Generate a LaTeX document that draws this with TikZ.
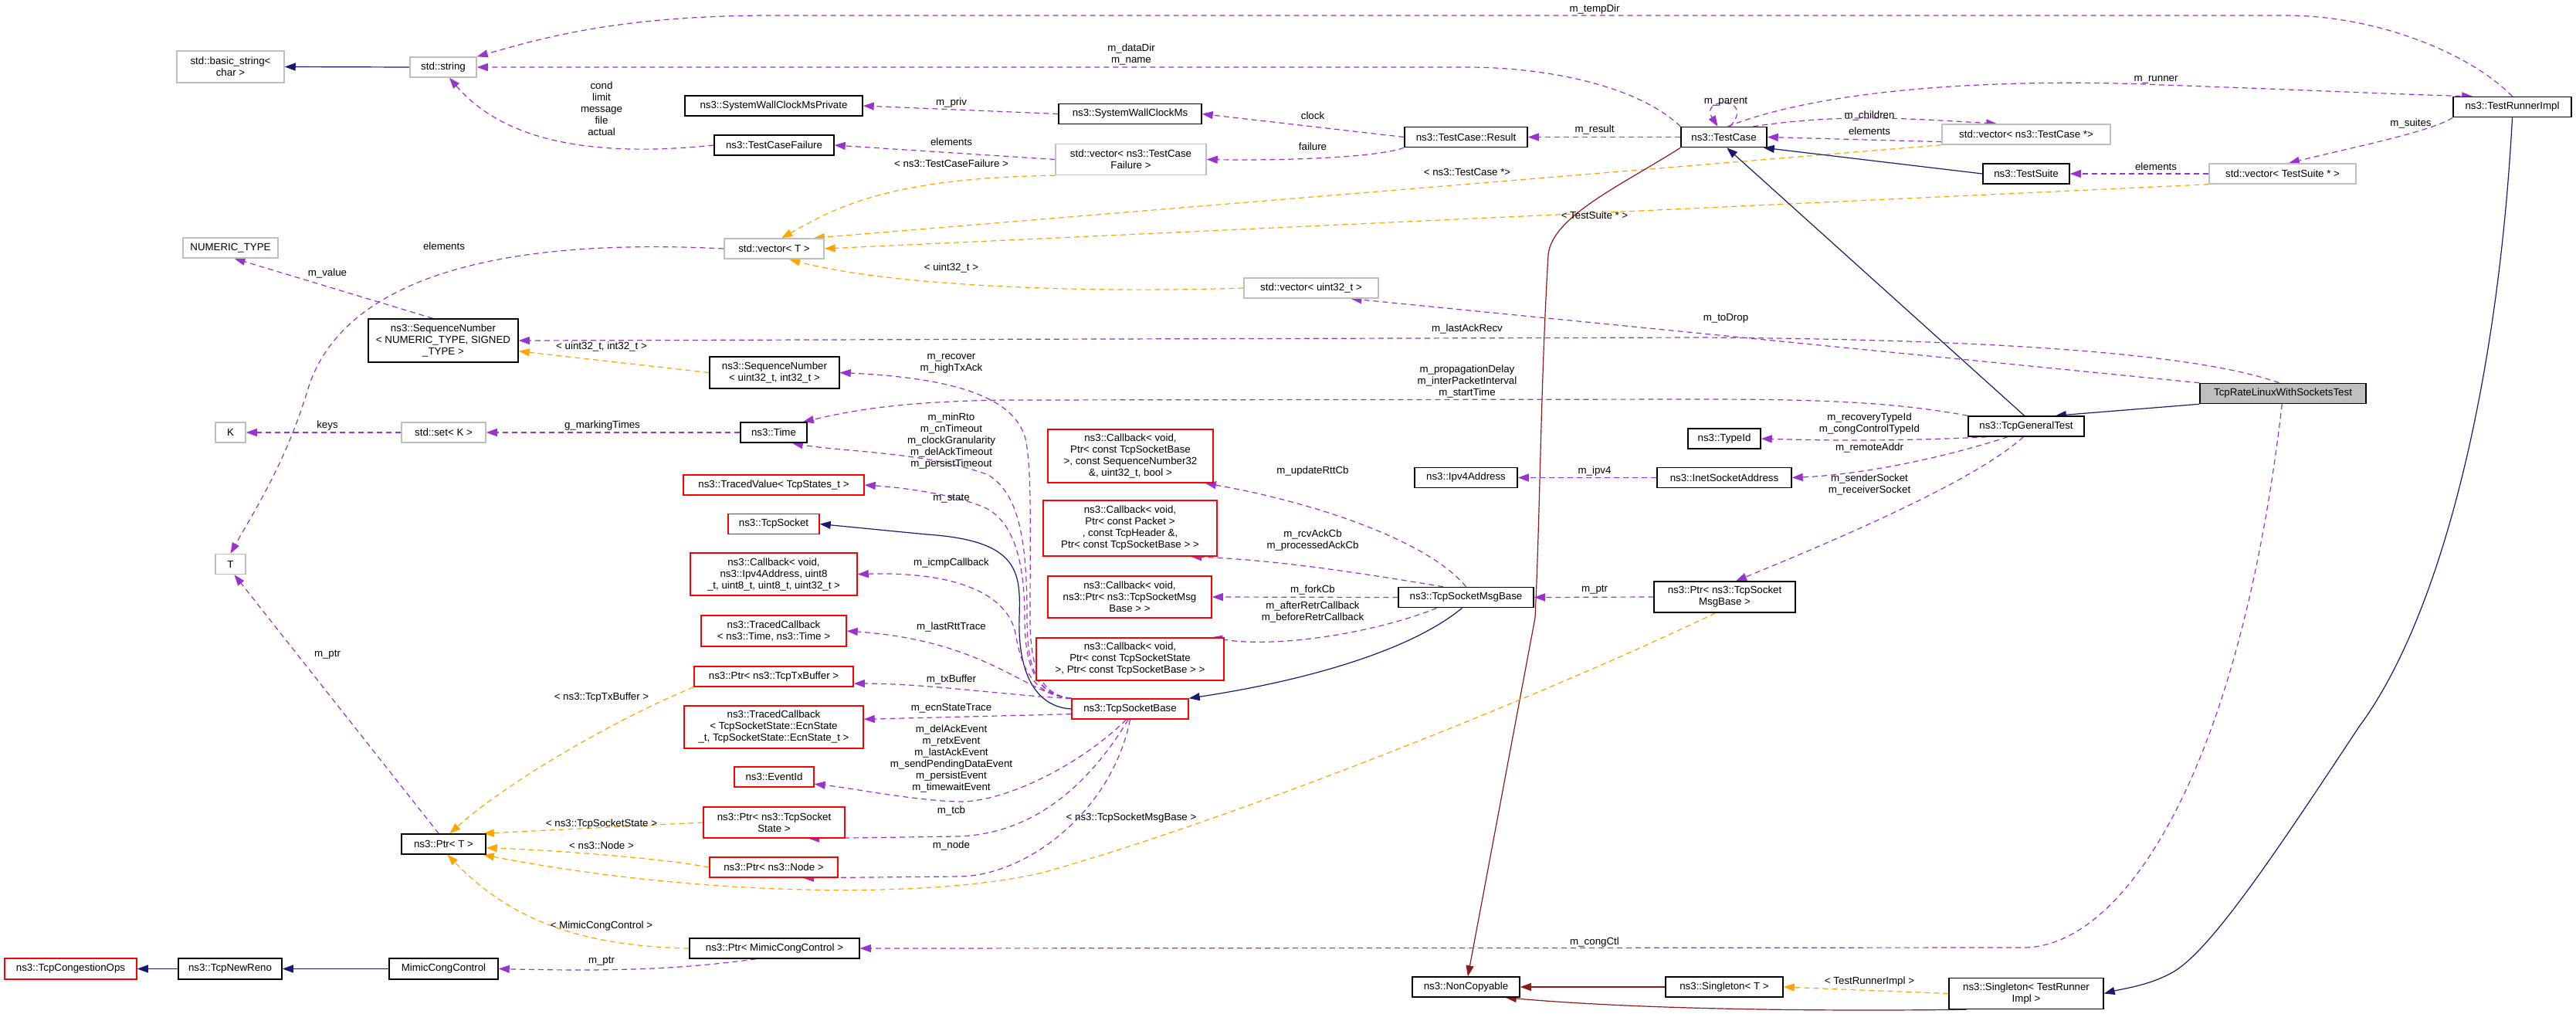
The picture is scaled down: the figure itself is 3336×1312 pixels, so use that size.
\documentclass[tikz,border=0pt]{standalone}
\usepackage{fontspec}
\setmainfont{Liberation Sans}
\usetikzlibrary{arrows.meta}
\definecolor{purp}{HTML}{9A32CD}
\definecolor{orng}{HTML}{FFA500}
\definecolor{mblue}{HTML}{191970}
\definecolor{dred}{HTML}{8B1A1A}
\definecolor{gry}{HTML}{BFBFBF}
\pgfdeclarelayer{bg}
\pgfsetlayers{bg,main}
\tikzset{
  every node/.style={font=\fontsize{13.3}{15}\selectfont},
  bx/.style={draw=black, line width=1.5pt, fill=white, inner sep=1pt, align=center},
  gbx/.style={bx, draw=gry},
  rbx/.style={bx, draw=red},
  lab/.style={inner sep=0pt, align=center},
  tip/.style={-{Triangle[length=14pt,width=10pt]}},
  use/.style={tip, draw=purp, line width=1.2pt, dash pattern=on 7pt off 5pt},
  tmpl/.style={tip, draw=orng, line width=1.2pt, dash pattern=on 7pt off 5pt},
  inh/.style={tip, draw=mblue, line width=1.2pt},
  pinh/.style={tip, draw=dred, line width=1.2pt},
}
\newcommand{\bn}[6][bx]{\node[#1, minimum width=#4pt, minimum height=#5pt] (#2) at #3 {#6};}
\begin{document}
\begin{tikzpicture}[x=1pt,y=-1pt]
\useasboundingbox (0,0) rectangle (3336,1312);
% nodes
\bn[gbx]{basicstr}{(298.5,86.5)}{139}{41}{std::basic\_string<\\ char >}
\bn[gbx]{string}{(574,87)}{86}{26}{std::string}
\bn{syswallpriv}{(1002,137)}{230}{26}{ns3::SystemWallClockMsPrivate}
\bn{tcfailure}{(1002.5,188)}{155}{26}{ns3::TestCaseFailure}
\bn[gbx]{numtype}{(298.5,321)}{123}{26}{NUMERIC\_TYPE}
\bn{seqgen}{(574,441)}{194}{56}{ns3::SequenceNumber\\< NUMERIC\_TYPE, SIGNED\\\_TYPE >}
\bn[gbx]{vectort}{(1002.5,322)}{129}{26}{std::vector< T >}
\bn{sequ}{(1003,482.5)}{168}{41}{ns3::SequenceNumber\\< uint32\_t, int32\_t >}
\bn[gbx]{knode}{(298.5,560)}{39}{26}{K}
\bn[gbx]{setk}{(574.5,560)}{109}{26}{std::set< K >}
\bn{time}{(1002,560)}{86}{26}{ns3::Time}
\bn[rbx]{tracedval}{(1002,628)}{234}{26}{ns3::TracedValue< TcpStates\_t >}
\bn[gbx]{tnode}{(298.5,730.5)}{39}{26}{T}
\bn[rbx]{tcpsocket}{(1002,678.5)}{118}{26}{ns3::TcpSocket}
\bn[rbx]{cbicmp}{(1002,743.5)}{216}{55}{ns3::Callback< void,\\ ns3::Ipv4Address, uint8\\\_t, uint8\_t, uint8\_t, uint32\_t >}
\bn[rbx]{tcbtime}{(1002,817)}{188}{40}{ns3::TracedCallback\\< ns3::Time, ns3::Time >}
\bn[rbx]{ptrtx}{(1002,876)}{206}{26}{ns3::Ptr< ns3::TcpTxBuffer >}
\bn[rbx]{tcbecn}{(1002,941.5)}{232}{55}{ns3::TracedCallback\\< TcpSocketState::EcnState\\\_t, TcpSocketState::EcnState\_t >}
\bn[rbx]{eventid}{(1002.5,1006)}{103}{26}{ns3::EventId}
\bn[rbx]{ptrtss}{(1002.5,1065)}{183}{40}{ns3::Ptr< ns3::TcpSocket\\State >}
\bn[rbx]{ptrnode}{(1002,1123)}{166}{26}{ns3::Ptr< ns3::Node >}
\bn{ptrt}{(574.5,1093)}{109}{26}{ns3::Ptr< T >}
\bn{ptrmimic}{(1003,1228)}{220}{26}{ns3::Ptr< MimicCongControl >}
\bn[rbx]{congops}{(91.5,1254.5)}{171}{27}{ns3::TcpCongestionOps}
\bn{newreno}{(298,1254.5)}{134}{27}{ns3::TcpNewReno}
\bn{mimic}{(574.5,1254.5)}{141}{27}{MimicCongControl}
\bn{syswallms}{(1463.5,147.5)}{185}{26}{ns3::SystemWallClockMs}
\bn{result}{(1898.5,177.5)}{159}{26}{ns3::TestCase::Result}
\bn[gbx]{vectcf}{(1464.5,206.5)}{195}{40}{std::vector< ns3::TestCase\\Failure >}
\bn[gbx]{vecu}{(1698,373)}{174}{26}{std::vector< uint32\_t >}
\bn[rbx]{cbrtt}{(1464,590.5)}{214}{69}{ns3::Callback< void,\\ Ptr< const TcpSocketBase\\ >, const SequenceNumber32\\ \&, uint32\_t, bool >}
\bn{ipv4}{(1898.5,618.5)}{133}{26}{ns3::Ipv4Address}
\bn{testcase}{(2232.5,177.5)}{111}{26}{ns3::TestCase}
\bn[gbx]{vectc}{(2624,174)}{218}{26}{std::vector< ns3::TestCase *>}
\bn{testsuite}{(2624,225)}{112}{26}{ns3::TestSuite}
\bn[gbx]{vects}{(2956,225)}{190}{26}{std::vector< TestSuite * >}
\bn{tri}{(3253.5,138.5)}{153}{26}{ns3::TestRunnerImpl}
\bn[bx,fill=gry]{tcprate}{(2956.5,509.5)}{215}{26}{TcpRateLinuxWithSocketsTest}
\bn{tcpgen}{(2624,552)}{150}{26}{ns3::TcpGeneralTest}
\bn{typeid}{(2233,568)}{94}{26}{ns3::TypeId}
\bn{inet}{(2233,618.5)}{174}{26}{ns3::InetSocketAddress}
\bn[rbx]{cbrcv}{(1463.5,684)}{225}{72}{ns3::Callback< void,\\ Ptr< const Packet >\\, const TcpHeader \&,\\ Ptr< const TcpSocketBase > >}
\bn[rbx]{cbfork}{(1463,773)}{212}{54}{ns3::Callback< void,\\ ns3::Ptr< ns3::TcpSocketMsg\\Base > >}
\bn[rbx]{cbafter}{(1463.5,853.5)}{243}{55}{ns3::Callback< void,\\ Ptr< const TcpSocketState\\ >, Ptr< const TcpSocketBase > >}
\bn[rbx]{tsb}{(1463.5,918)}{151}{26}{ns3::TcpSocketBase}
\bn{tsmb}{(1898.5,773.5)}{175}{26}{ns3::TcpSocketMsgBase}
\bn{ptrtsmb}{(2233.5,773)}{183}{40}{ns3::Ptr< ns3::TcpSocket\\MsgBase >}
\bn{noncopy}{(1898.5,1278)}{139}{26}{ns3::NonCopyable}
\bn{singt}{(2233,1278)}{152}{26}{ns3::Singleton< T >}
\bn{singtri}{(2624,1286.5)}{200}{40}{ns3::Singleton< TestRunner\\Impl >}
% edges
\begin{pgfonlayer}{bg}
\draw[inh] (string.west) -- (basicstr.east);
\draw[use] (tri.north) .. controls (3200,70) and (3080,20) .. (2960,20) -- (1000,20) .. controls (800,20) and (700,50) .. (string.north east);
\draw[use] (testcase.north west) .. controls (2120,110) and (2000,87) .. (1900,87) -- (string.east);
\draw[use] (tcfailure.west) .. controls (760,205) and (650,180) .. (string.-60);
\draw[use] (syswallms.west) -- (syswallpriv.east);
\draw[use] (result.west) -- (syswallms.east);
\draw[use] (result.south west) .. controls (1780,205) and (1650,208) .. (vectcf.east);
\draw[use] (testcase.west) -- (result.east);
\draw[use] (vectcf.west) -- (tcfailure.east);
\draw[tmpl] (vectcf.south west) .. controls (1150,230) and (1080,270) .. (vectort.55);
\draw[tmpl] (vectc.south west) -- (vectort.15);
\draw[tmpl] (vects.south west) -- (vectort.east);
\draw[tmpl] (vecu.west) .. controls (1400,380) and (1150,370) .. (vectort.-35);
\draw[use] (vectort.west) .. controls (600,305) and (440,380) .. (400,500) .. controls (370,600) and (330,660) .. (tnode.north);
\draw[use] (testcase.60) .. controls (2275,125) and (2200,125) .. (testcase.120);
\draw[use] (testcase.20) .. controls (2380,148) and (2450,152) .. (vectc.160);
\draw[use] (vectc.-175) -- (testcase.east);
\draw[use] (testcase.70) .. controls (2400,100) and (2700,105) .. (2800,110) .. controls (2950,115) and (3100,122) .. (tri.165);
\draw[inh] (testsuite.west) -- (testcase.-15);
\draw[use] (vects.west) -- (testsuite.east);
\draw[use] (tri.south west) .. controls (3150,170) and (3050,190) .. (vects.60);
\draw[inh] (tri.south) .. controls (3235,500) and (3160,800) .. (3055,941) .. controls (2950,1100) and (2870,1220) .. (2820,1255) .. controls (2790,1275) and (2750,1280) .. (singtri.east);
\draw[tmpl] (singtri.west) -- (singt.east);
\draw[pinh] (singt.west) -- (noncopy.east);
\draw[pinh] (singtri.195) .. controls (2300,1310) and (2100,1305) .. (noncopy.-15);
\draw[pinh] (testcase.south west) .. controls (2100,240) and (2010,280) .. (2005,330) .. controls (1995,500) and (1995,650) .. (1988,800) -- (noncopy.80);
\draw[inh] (tcpgen.100) -- (testcase.-75);
\draw[inh] (tcprate.south west) -- (tcpgen.20);
\draw[use] (tcprate.north west) -- (vecu.-15);
\draw[use] (tcprate.110) .. controls (2880,470) and (2700,440) .. (2200,437) -- (seqgen.east);
\draw[use] (tcprate.-95) .. controls (2900,1000) and (2750,1227) .. (2620,1227) -- (ptrmimic.east);
\draw[use] (tcpgen.north west) .. controls (2450,520) and (2350,517) .. (2200,517) -- (1300,518) .. controls (1150,520) and (1090,535) .. (time.20);
\draw[use] (tcpgen.195) .. controls (2450,572) and (2350,570) .. (typeid.east);
\draw[use] (tcpgen.-150) .. controls (2500,598) and (2400,615) .. (inet.east);
\draw[use] (tcpgen.-105) .. controls (2560,620) and (2400,690) .. (ptrtsmb.55);
\draw[use] (inet.west) -- (ipv4.east);
\draw[use] (ptrtsmb.west) -- (tsmb.east);
\draw[tmpl] (ptrtsmb.-120) .. controls (2000,900) and (1600,1060) .. (1350,1130) .. controls (1200,1165) and (900,1160) .. (ptrt.-15);
\draw[use] (tsmb.north) .. controls (1850,700) and (1700,650) .. (cbrtt.-20);
\draw[use] (tsmb.155) .. controls (1750,740) and (1650,725) .. (cbrcv.-25);
\draw[use] (tsmb.west) -- (cbfork.east);
\draw[use] (tsmb.-160) .. controls (1780,820) and (1650,840) .. (cbafter.15);
\draw[inh] (tsmb.-110) .. controls (1830,840) and (1700,880) .. (tsb.north east);
\draw[inh] (tsb.west) .. controls (1340,915) and (1318,870) .. (1320,800) .. controls (1322,740) and (1320,700) .. (1200,692) -- (tcpsocket.east);
\draw[use] (tsb.north west) .. controls (1345,900) and (1334,860) .. (1334,800) .. controls (1334,700) and (1336,620) .. (1330,580) .. controls (1325,520) and (1250,490) .. (sequ.east);
\draw[use] (tsb.north west) .. controls (1340,900) and (1330,860) .. (1330,800) .. controls (1330,700) and (1320,640) .. (1280,615) .. controls (1200,585) and (1090,585) .. (time.-30);
\draw[use] (tsb.north west) .. controls (1340,900) and (1327,860) .. (1327,800) .. controls (1327,720) and (1310,670) .. (1270,655) .. controls (1220,636) and (1150,630) .. (tracedval.east);
\draw[use] (tsb.north west) .. controls (1335,900) and (1322,860) .. (1315,820) .. controls (1305,770) and (1240,740) .. (cbicmp.east);
\draw[use] (tsb.north west) .. controls (1330,900) and (1280,830) .. (tcbtime.east);
\draw[use] (tsb.170) .. controls (1300,900) and (1200,885) .. (ptrtx.-5);
\draw[use] (tsb.-175) -- (tcbecn.5);
\draw[use] (tsb.-110) .. controls (1400,990) and (1300,1040) .. (1240,1038) .. controls (1180,1036) and (1100,1020) .. (eventid.-10);
\draw[use] (tsb.-100) .. controls (1420,1000) and (1350,1080) .. (1240,1083) -- (ptrtss.-25);
\draw[use] (tsb.-90) .. controls (1440,1050) and (1330,1135) .. (1240,1135) -- (ptrnode.-20);
\draw[tmpl] (ptrtx.south west) .. controls (800,930) and (660,1010) .. (ptrt.60);
\draw[tmpl] (ptrtss.west) -- (ptrt.15);
\draw[tmpl] (ptrnode.west) .. controls (850,1110) and (700,1100) .. (ptrt.-5);
\draw[tmpl] (ptrmimic.west) .. controls (750,1225) and (660,1190) .. (ptrt.-70);
\draw[use] (ptrt.115) -- (tnode.-70);
\draw[tmpl] (sequ.west) -- (seqgen.-8);
\draw[use] (seqgen.115) -- (numtype.-70);
\draw[use] (time.west) -- (setk.east);
\draw[use] (setk.west) -- (knode.east);
\draw[use] (ptrmimic.-150) .. controls (880,1255) and (800,1258) .. (mimic.east);
\draw[inh] (mimic.west) -- (newreno.east);
\draw[inh] (newreno.west) -- (congops.east);
\end{pgfonlayer}
% labels
\node[lab] (l1) at (779,141) {cond\\limit\\message\\file\\actual};
\node[lab] (l2) at (575,319) {elements};
\node[lab] (l3) at (424,354) {m\_value};
\node[lab] (l4) at (424,551) {keys};
\node[lab] (l5) at (780,551) {g\_markingTimes};
\node[lab] (l6) at (779,449) {< uint32\_t, int32\_t >};
\node[lab] (l7) at (424,848) {m\_ptr};
\node[lab] (l8) at (779,903) {< ns3::TcpTxBuffer >};
\node[lab] (l9) at (779,1067) {< ns3::TcpSocketState >};
\node[lab] (l10) at (779,1095) {< ns3::Node >};
\node[lab] (l11) at (779,1199) {< MimicCongControl >};
\node[lab] (l12) at (779,1245) {m\_ptr};
\node[lab] (l13) at (2065,12) {m\_tempDir};
\node[lab] (l14) at (1465,70) {m\_dataDir\\m\_name};
\node[lab] (l15) at (1232,133) {m\_priv};
\node[lab] (l16) at (1700,150) {clock};
\node[lab] (l17) at (2065,168) {m\_result};
\node[lab] (l18) at (1232,184) {elements};
\node[lab] (l19) at (1232,212) {< ns3::TestCaseFailure >};
\node[lab] (l20) at (1700,190) {failure};
\node[lab] (l21) at (1900,223) {< ns3::TestCase *>};
\node[lab] (l22) at (2065,279) {< TestSuite * >};
\node[lab] (l23) at (1232,347) {< uint32\_t >};
\node[lab] (l24) at (1900,426) {m\_lastAckRecv};
\node[lab] (l25) at (1232,471) {m\_recover\\m\_highTxAck};
\node[lab] (l26) at (1900,494) {m\_propagationDelay\\m\_interPacketInterval\\m\_startTime};
\node[lab] (l27) at (1232,571) {m\_minRto\\m\_cnTimeout\\m\_clockGranularity\\m\_delAckTimeout\\m\_persistTimeout};
\node[lab] (l28) at (1700,610) {m\_updateRttCb};
\node[lab] (l29) at (2065,610) {m\_ipv4};
\node[lab] (l30) at (2792,103) {m\_runner};
\node[lab] (l31) at (2235,132) {m\_parent};
\node[lab] (l32) at (2421,150) {m\_children};
\node[lab] (l33) at (2421,170) {elements};
\node[lab] (l34) at (3122,160) {m\_suites};
\node[lab] (l35) at (2792,216) {elements};
\node[lab] (l36) at (2235,412) {m\_toDrop};
\node[lab] (l37) at (2421,549) {m\_recoveryTypeId\\m\_congControlTypeId};
\node[lab] (l38) at (2421,580) {m\_remoteAddr};
\node[lab] (l39) at (2421,627) {m\_senderSocket\\m\_receiverSocket};
\node[lab] (l40) at (1700,700) {m\_rcvAckCb\\m\_processedAckCb};
\node[lab] (l41) at (1232,729) {m\_icmpCallback};
\node[lab] (l42) at (1700,764) {m\_forkCb};
\node[lab] (l43) at (1700,792) {m\_afterRetrCallback\\m\_beforeRetrCallback};
\node[lab] (l44) at (1232,812) {m\_lastRttTrace};
\node[lab] (l45) at (1232,880) {m\_txBuffer};
\node[lab] (l46) at (1232,917) {m\_ecnStateTrace};
\node[lab] (l47) at (1232,982) {m\_delAckEvent\\m\_retxEvent\\m\_lastAckEvent\\m\_sendPendingDataEvent\\m\_persistEvent\\m\_timewaitEvent};
\node[lab] (l48) at (1232,1050) {m\_tcb};
\node[lab] (l49) at (1232,1095) {m\_node};
\node[lab] (l50) at (1465,1059) {< ns3::TcpSocketMsgBase >};
\node[lab] (l51) at (2065,764) {m\_ptr};
\node[lab] (l52) at (2065,1220) {m\_congCtl};
\node[lab] (l53) at (2421,1271) {< TestRunnerImpl >};
\node[lab] (l54) at (1232,646) {m\_state};
\end{tikzpicture}
\end{document}
